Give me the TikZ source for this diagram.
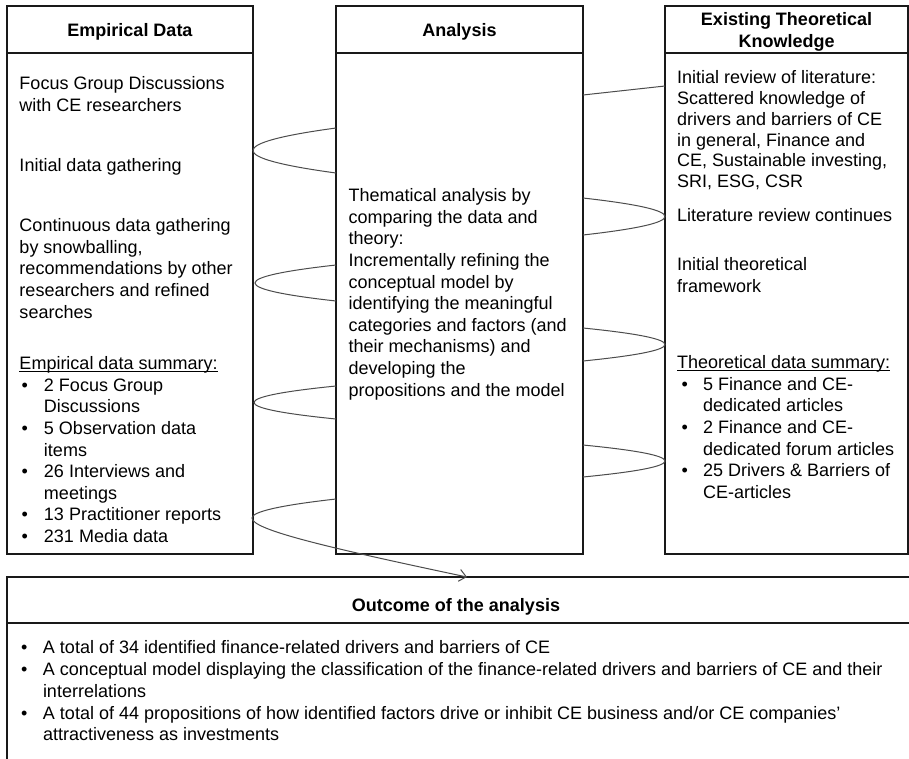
\documentclass[tikz,border=0pt]{standalone}
\usepackage{fontspec}
\setmainfont{Liberation Sans}
\usetikzlibrary{arrows.meta}
\newsavebox\ulbox
\newcommand{\ul}[1]{\sbox\ulbox{#1}\rlap{\rule[-2.2pt]{\wd\ulbox}{1.1pt}}\usebox\ulbox}
\newcommand{\tp}{\rule{0pt}{15pt}}
\newcommand{\bl}[1]{\hspace*{2pt}\makebox[22.5pt][l]{\textbullet}#1}
\newcommand{\bc}[1]{\hspace*{24.5pt}#1}
\newcommand{\br}[1]{\hspace*{4.5pt}\makebox[21.5pt][l]{\textbullet}#1}
\newcommand{\brc}[1]{\hspace*{26pt}#1}
\newcommand{\bb}[1]{\hspace*{1pt}\makebox[22pt][l]{\textbullet}#1}
\newcommand{\bbc}[1]{\hspace*{23pt}#1}
\newcommand{\fontA}{\fontsize{18}{21.6}\selectfont\setlength{\lineskiplimit}{-30pt}}
\newcommand{\fontR}{\fontsize{18}{20.8}\selectfont\setlength{\lineskiplimit}{-30pt}}
\newcommand{\fontB}{\fontsize{18}{21.8}\selectfont\setlength{\lineskiplimit}{-30pt}}
\tikzset{
  boxn/.style={draw=black!90, line width=1.6pt, inner sep=0pt, outer sep=0pt},
  hline/.style={draw=black!90, line width=1.6pt},
  link/.style={draw=black!70, line width=1pt},
  txt/.style={anchor=north west, inner sep=0pt, outer sep=0pt, align=left, font=\fontA},
  txtr/.style={txt, font=\fontR},
  txtb/.style={txt, font=\fontB},
  head/.style={anchor=base, inner sep=0pt, align=center, font=\fontsize{18}{22}\selectfont\bfseries},
}
\begin{document}
\begin{tikzpicture}[x=1pt,y=-1pt]
\fill[white] (0,0) rectangle (909,758);
\useasboundingbox (0,0) rectangle (909,758);
\clip (0,0) rectangle (909,758);

% boxes
\node[boxn, minimum width=246pt, minimum height=548pt] (emp) at (130,280) {};
\node[boxn, minimum width=247pt, minimum height=548pt] (ana) at (459.5,280) {};
\node[boxn, minimum width=243pt, minimum height=548pt] (the) at (786.5,280) {};
\node[boxn, minimum width=913pt, minimum height=193pt] (out) at (463.5,673.5) {};

\coordinate (h53) at (0,53);
\coordinate (h623) at (0,623);
\draw[hline] (emp.west |- h53) -- (emp.east |- h53);
\draw[hline] (ana.west |- h53) -- (ana.east |- h53);
\draw[hline] (the.west |- h53) -- (the.east |- h53);
\draw[hline] (out.west |- h623) -- (out.east |- h623);

% headers
\node[head] (hemp) at (130,36.5) {Empirical Data};
\node[head] (hana) at (459.5,36.5) {Analysis};
\node[head, anchor=north] (hthe) at (786.5,10.3) {\rule{0pt}{15.4pt}Existing Theoretical\\Knowledge};
\node[head] (hout) at (456,611) {Outcome of the analysis};

% left column
\node[txt] (e1) at (19.5,74.7) {\tp Focus Group Discussions\\with CE researchers};
\node[txt] (e2) at (19.5,156.7) {\tp Initial data gathering};
\node[txt] (e3) at (19.5,216.7) {\tp Continuous data gathering\\by snowballing,\\recommendations by other\\researchers and refined\\searches};
\node[txt] (e4) at (19.5,354.7) {\tp\ul{Empirical data summary:}\\\bl{2 Focus Group}\\\bc{Discussions}\\\bl{5 Observation data}\\\bc{items}\\\bl{26 Interviews and}\\\bc{meetings}\\\bl{13 Practitioner reports}\\\bl{231 Media data}};

% middle column
\node[txt] (a1) at (348.5,186.7) {\tp Thematical analysis by\\comparing the data and\\theory:\\Incrementally refining the\\conceptual model by\\identifying the meaningful\\categories and factors (and\\their mechanisms) and\\developing the\\propositions and the model};

% right column
\node[txtr] (t1) at (677,68.7) {\tp Initial review of literature:\\Scattered knowledge of\\drivers and barriers of CE\\in general, Finance and\\CE, Sustainable investing,\\SRI, ESG, CSR};
\node[txt] (t2) at (677,206.7) {\tp Literature review continues};
\node[txt] (t3) at (677,255.7) {\tp Initial theoretical\\framework};
\node[txt] (t4) at (677,353.7) {\tp\ul{Theoretical data summary:}\\\br{5 Finance and CE-}\\\brc{dedicated articles}\\\br{2 Finance and CE-}\\\brc{dedicated forum articles}\\\br{25 Drivers \& Barriers of}\\\brc{CE-articles}};

% bottom
\node[txtb] (o1) at (20,638.7) {\tp\bb{A total of 34 identified finance-related drivers and barriers of CE}\\\bb{A conceptual model displaying the classification of the finance-related drivers and barriers of CE and their}\\\bbc{interrelations}\\\bb{A total of 44 propositions of how identified factors drive or inhibit CE business and/or CE companies'}\\\bbc{attractiveness as investments}};

% connectors
\coordinate (l1a) at (ana.west |- 0,128);
\coordinate (l1b) at (ana.west |- 0,173);
\draw[link] (l1a) .. controls (225.3,143) and (225.3,158) .. (l1b);
\coordinate (l2a) at (ana.west |- 0,265);
\coordinate (l2b) at (ana.west |- 0,301);
\draw[link] (l2a) .. controls (228,277) and (228,289) .. (l2b);
\coordinate (l3a) at (ana.west |- 0,386);
\coordinate (l3b) at (ana.west |- 0,419);
\draw[link] (l3a) .. controls (226.7,397) and (226.7,408) .. (l3b);

\coordinate (r0a) at (ana.east |- 0,95);
\coordinate (r0b) at (the.west |- 0,86);
\draw[link] (r0a) -- (r0b);
\coordinate (r1a) at (ana.east |- 0,198);
\coordinate (r1b) at (ana.east |- 0,235);
\draw[link] (r1a) .. controls (692.3,210.3) and (692.3,222.7) .. (r1b);
\coordinate (r2a) at (ana.east |- 0,328);
\coordinate (r2b) at (ana.east |- 0,361);
\draw[link] (r2a) .. controls (692.3,339) and (692.3,350) .. (r2b);
\coordinate (r3a) at (ana.east |- 0,445);
\coordinate (r3b) at (ana.east |- 0,477);
\draw[link] (r3a) .. controls (692.3,455.7) and (692.3,466.3) .. (r3b);

\coordinate (l4a) at (ana.west |- 0,499);
\coordinate (l4m) at (252,518);
\coordinate (arr) at (467,577);
\draw[link, -{Straight Barb[length=7pt,width=12pt]}] (l4a) .. controls (280,505.3) and (252,511.7) .. (l4m)
  .. controls (252,530) and (330,548) .. (arr);
\end{tikzpicture}
\end{document}
